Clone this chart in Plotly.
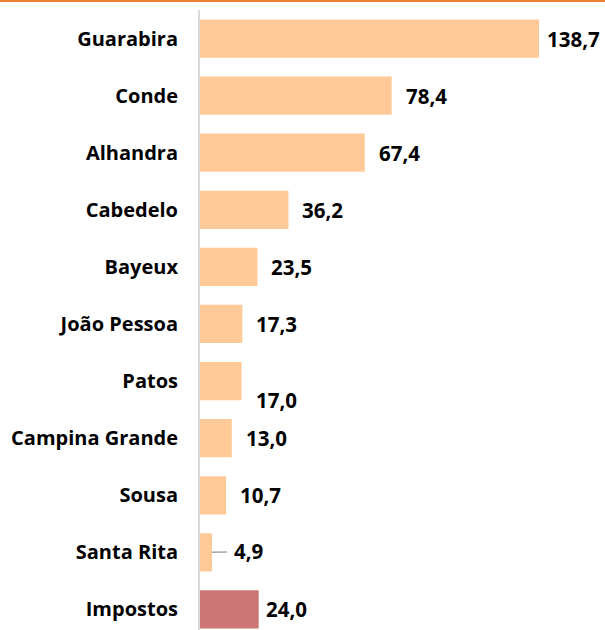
import plotly.graph_objects as go

categories = ["Guarabira", "Conde", "Alhandra", "Cabedelo", "Bayeux", "João Pessoa",
              "Patos", "Campina Grande", "Sousa", "Santa Rita", "Impostos"]
values = [138.7, 78.4, 67.4, 36.2, 23.5, 17.3, 17.0, 13.0, 10.7, 4.9, 24.0]
labels = ["138,7", "78,4", "67,4", "36,2", "23,5", "17,3", "17,0", "13,0", "10,7", "4,9", "24,0"]

BAR = "#FFCA98"
TAX = "#CD7474"
colors = [TAX if c == "Impostos" else BAR for c in categories]

fig = go.Figure(go.Bar(
    x=values, y=categories, orientation="h",
    marker=dict(color=colors, line=dict(width=0)),
    hoverinfo="skip",
))

font_fam = "'Open Sans', sans-serif"
val_font = dict(family=font_fam, size=20.5, color="#000000", weight="bold")
annotations = []
for c, v, t in zip(categories, values, labels):
    xshift, yshift = 12, 0
    if c == "Guarabira":
        xshift = 6
    if c == "Impostos":
        xshift = 5
    if c == "Patos":
        yshift = -19
    if c == "Santa Rita":
        annotations.append(dict(
            x=v, y=c, xref="x", yref="y", text=t, showarrow=True,
            arrowhead=0, arrowwidth=1.5, arrowcolor="#A6A6A6",
            ax=37, ay=-1, standoff=0, startstandoff=6,
            font=val_font,
        ))
        continue
    annotations.append(dict(
        x=v, y=c, xref="x", yref="y", text=t, showarrow=False,
        xanchor="left", yanchor="middle", xshift=xshift, yshift=yshift,
        font=val_font,
    ))

fig.update_layout(
    width=605, height=630,
    margin=dict(l=200, r=0, t=10, b=0),
    paper_bgcolor="white", plot_bgcolor="white",
    bargap=0.33,
    showlegend=False,
    annotations=annotations,
    xaxis=dict(range=[0, 165.7], visible=False, fixedrange=True),
    yaxis=dict(
        range=[10.36, -0.5], showgrid=False, zeroline=False, fixedrange=True,
        showline=True, linecolor="#D9D9D9", linewidth=2,
        ticks="", ticklabelstandoff=16,
        tickfont=dict(family=font_fam, size=20, color="#000000", weight="bold"),
    ),
    shapes=[dict(type="line", xref="paper", yref="paper",
                 x0=-1, x1=1.1, y0=1 + 9 / 620, y1=1 + 9 / 620,
                 line=dict(color="#ED7D31", width=2))],
)

fig.write_html("out.html", config={"displayModeBar": False},
               post_script="document.body.style.margin='0';document.body.style.overflow='hidden';")
